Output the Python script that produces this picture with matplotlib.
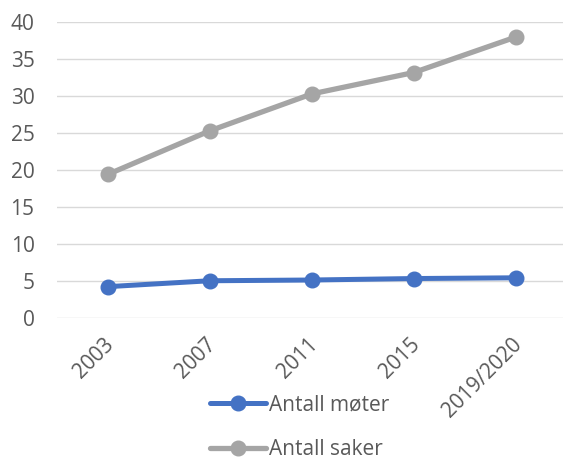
import matplotlib
matplotlib.use("Agg")
import matplotlib.pyplot as plt
import matplotlib.transforms as mtransforms

# tall i figuren
aar = ["2003", "2007", "2011", "2015", "2019/2020"]
moter = [4.2, 5.0, 5.1, 5.3, 5.4]
saker = [19.4, 25.3, 30.3, 33.2, 38.0]

plt.rcParams['font.family'] = ['Open Sans', 'DejaVu Sans']
fs = 15
grå_tekst = "#595959"

fig = plt.figure(figsize=(5.63, 4.61), dpi=100)
ax = fig.add_axes([0.1007, 0.3109, 0.906, 0.6407])

x = list(range(len(aar)))
ax.plot(x, moter, color="#4472C4", lw=3.6, marker="o", markersize=10.5,
        label="Antall møter", solid_capstyle="round", zorder=3)
ax.plot(x, saker, color="#A5A5A5", lw=3.8, marker="o", markersize=10.5,
        label="Antall saker", solid_capstyle="round", zorder=3)

ax.set_xlim(-0.5, len(aar) - 0.5)
ax.set_ylim(0, 40)
ax.set_yticks(range(0, 41, 5))
ax.grid(axis="y", color="#D9D9D9", lw=1.0)
ax.set_axisbelow(True)
for s in ax.spines.values():
    s.set_visible(False)

ax.tick_params(axis="y", length=0, pad=16, labelsize=fs, labelcolor=grå_tekst)
ax.tick_params(axis="x", length=0, pad=17, labelsize=fs, labelcolor=grå_tekst)
ax.set_xticks(x)
ax.set_xticklabels(aar, rotation=45, ha="right", va="center", rotation_mode="anchor")
skift = mtransforms.ScaledTranslation(3 / 100, 0, fig.dpi_scale_trans)
for t in ax.get_xticklabels():
    t.set_transform(t.get_transform() + skift)

ax.legend(loc="center left", bbox_to_anchor=(210 / 563, 1 - 427.5 / 461),
          bbox_transform=fig.transFigure, frameon=False, fontsize=fs,
          labelcolor=grå_tekst, handlelength=2.7, handletextpad=0.15,
          labelspacing=1.15, borderpad=0, borderaxespad=0)

fig.savefig("out.png", dpi=100)
